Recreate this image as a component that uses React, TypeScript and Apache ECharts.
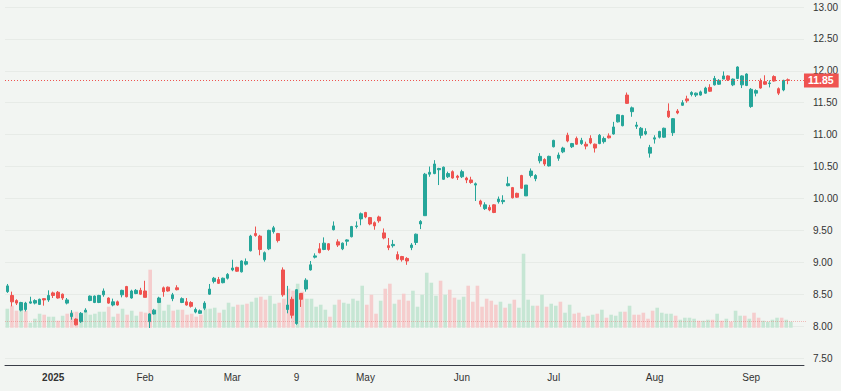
import React, { useEffect, useRef } from "react";
import * as echarts from "echarts";

// Daily OHLC (index 0 = mid-December 2024 ... last = mid-September 2025)
const opens = [
  8.54, 8.48, 8.4, 8.25, 8.26, 8.36, 8.36, 8.34, 8.43, 8.41, 8.52, 8.53, 8.5, 8.36, 8.15, 8.11, 8.07, 8.22, 8.4, 8.37,
  8.37, 8.49, 8.44, 8.33, 8.38, 8.49, 8.62, 8.44, 8.51, 8.56, 8.55, 8.07, 8.19, 8.37, 8.6, 8.61, 8.43, 8.6, 8.37, 8.38,
  8.37, 8.22, 8.2, 8.28, 8.5, 8.7, 8.73, 8.68, 8.75, 8.88, 8.92, 8.85, 8.97, 9.18, 9.45, 9.41, 9.04, 9.21, 9.48, 9.45,
  8.88, 8.26, 8.42, 8.04, 8.51, 8.58, 8.88, 9.08, 9.21, 9.2, 9.29, 9.51, 9.32, 9.21, 9.33, 9.4, 9.56, 9.68, 9.78, 9.7,
  9.62, 9.71, 9.46, 9.26, 9.26, 9.12, 9.09, 9.06, 9.23, 9.31, 9.6, 9.73, 10.38, 10.39, 10.45, 10.3, 10.34, 10.42, 10.35, 10.34,
  10.32, 10.29, 10.21, 9.96, 9.84, 9.86, 9.9, 9.95, 9.95, 10.2, 10.17, 10.08, 10.36, 10.04, 10.36, 10.31, 10.59, 10.61, 10.51, 10.81,
  10.63, 10.73, 10.99, 10.81, 10.94, 10.86, 10.85, 10.94, 10.85, 10.86, 10.89, 10.98, 11.01, 11.2, 11.14, 11.62, 11.36, 11.13, 10.99, 11.01,
  10.71, 10.93, 10.96, 10.96, 11.37, 11.03, 11.37, 11.46, 11.56, 11.63, 11.62, 11.62, 11.65, 11.74, 11.78, 11.79, 11.87, 11.92, 11.78, 11.88,
  11.78, 11.77, 11.44, 11.65, 11.84, 11.83, 11.8, 11.91, 11.72, 11.7, 11.86,
];
const closes = [
  8.63, 8.38, 8.36, 8.37, 8.36, 8.38, 8.4, 8.42, 8.41, 8.48, 8.48, 8.44, 8.44, 8.41, 8.2, 8.02, 8.2, 8.25, 8.47, 8.47,
  8.48, 8.55, 8.36, 8.38, 8.33, 8.56, 8.46, 8.55, 8.56, 8.5, 8.45, 8.19, 8.25, 8.44, 8.54, 8.55, 8.49, 8.57, 8.43, 8.33,
  8.31, 8.26, 8.24, 8.36, 8.58, 8.75, 8.67, 8.75, 8.81, 8.91, 8.86, 9.02, 9.01, 9.41, 9.42, 9.2, 9.15, 9.5, 9.54, 9.34,
  8.49, 8.33, 8.17, 8.57, 8.42, 8.72, 8.96, 9.1, 9.15, 9.3, 9.2, 9.57, 9.27, 9.3, 9.35, 9.56, 9.57, 9.76, 9.71, 9.6,
  9.57, 9.65, 9.38, 9.23, 9.28, 9.05, 9.04, 9.02, 9.27, 9.44, 9.64, 10.38, 10.41, 10.54, 10.47, 10.49, 10.39, 10.32, 10.33, 10.42,
  10.29, 10.25, 10.23, 9.91, 9.9, 9.82, 9.78, 9.99, 9.97, 10.23, 10.01, 10.02, 10.16, 10.21, 10.43, 10.36, 10.66, 10.54, 10.66, 10.91,
  10.68, 10.79, 10.9, 10.86, 10.85, 10.91, 10.82, 10.87, 10.79, 10.99, 10.94, 10.95, 11.12, 11.31, 11.3, 11.49, 11.42, 11.15, 11.1, 11.05,
  10.8, 10.95, 11.05, 11.1, 11.28, 11.25, 11.34, 11.5, 11.53, 11.66, 11.65, 11.67, 11.73, 11.68, 11.88, 11.85, 11.92, 11.86, 11.87, 12.06,
  11.92, 11.95, 11.71, 11.69, 11.73, 11.79, 11.81, 11.84, 11.65, 11.85, 11.85,
];
const lows = [
  8.52, 8.31, 8.33, 8.23, 8.23, 8.35, 8.34, 8.33, 8.32, 8.38, 8.44, 8.43, 8.41, 8.34, 8.1, 8.01, 8.05, 8.22, 8.39, 8.36,
  8.36, 8.46, 8.35, 8.31, 8.32, 8.45, 8.45, 8.43, 8.5, 8.49, 8.45, 7.97, 8.18, 8.36, 8.46, 8.54, 8.39, 8.56, 8.36, 8.32,
  8.29, 8.2, 8.19, 8.25, 8.49, 8.67, 8.66, 8.67, 8.73, 8.86, 8.85, 8.84, 8.95, 9.17, 9.4, 9.11, 9.01, 9.19, 9.45, 9.31,
  8.46, 8.2, 8.12, 8.02, 8.3, 8.54, 8.87, 9.06, 9.14, 9.19, 9.18, 9.5, 9.24, 9.19, 9.26, 9.39, 9.53, 9.58, 9.69, 9.58,
  9.51, 9.62, 9.36, 9.19, 9.23, 9.03, 9.01, 8.96, 9.19, 9.27, 9.52, 9.73, 10.34, 10.38, 10.21, 10.29, 10.32, 10.31, 10.29, 10.32,
  10.24, 10.23, 9.96, 9.87, 9.82, 9.8, 9.77, 9.92, 9.91, 10.19, 10.0, 10.01, 10.15, 10.04, 10.33, 10.27, 10.55, 10.51, 10.5, 10.8,
  10.59, 10.71, 10.88, 10.79, 10.84, 10.84, 10.77, 10.85, 10.72, 10.85, 10.86, 10.94, 11.0, 11.19, 11.13, 11.48, 11.28, 11.09, 10.94, 10.99,
  10.64, 10.86, 10.94, 10.95, 11.26, 10.98, 11.32, 11.45, 11.5, 11.6, 11.59, 11.61, 11.64, 11.67, 11.77, 11.78, 11.87, 11.84, 11.76, 11.87,
  11.73, 11.76, 11.42, 11.6, 11.72, 11.78, 11.74, 11.83, 11.62, 11.68, 11.79,
];
const highs = [
  8.66, 8.54, 8.42, 8.38, 8.38, 8.46, 8.42, 8.43, 8.44, 8.56, 8.54, 8.55, 8.51, 8.44, 8.25, 8.12, 8.22, 8.28, 8.48, 8.48,
  8.49, 8.59, 8.45, 8.43, 8.4, 8.57, 8.63, 8.57, 8.58, 8.6, 8.71, 8.2, 8.27, 8.46, 8.62, 8.62, 8.52, 8.64, 8.45, 8.44,
  8.39, 8.29, 8.26, 8.39, 8.66, 8.77, 8.77, 8.76, 8.83, 9.04, 8.93, 9.03, 9.06, 9.43, 9.56, 9.43, 9.17, 9.51, 9.57, 9.46,
  8.92, 8.63, 8.46, 8.58, 8.52, 8.75, 9.02, 9.14, 9.3, 9.39, 9.3, 9.64, 9.36, 9.31, 9.36, 9.57, 9.64, 9.78, 9.79, 9.71,
  9.64, 9.73, 9.53, 9.38, 9.35, 9.17, 9.1, 9.08, 9.3, 9.45, 9.66, 10.4, 10.5, 10.6, 10.48, 10.5, 10.42, 10.44, 10.37, 10.45,
  10.34, 10.34, 10.25, 9.98, 9.94, 9.9, 9.91, 10.03, 10.05, 10.34, 10.18, 10.09, 10.37, 10.21, 10.47, 10.38, 10.71, 10.63, 10.67, 10.92,
  10.72, 10.81, 11.03, 10.87, 10.97, 10.95, 10.89, 10.99, 10.86, 11.01, 10.97, 11.02, 11.2, 11.32, 11.31, 11.66, 11.44, 11.2, 11.12, 11.1,
  10.84, 10.99, 11.06, 11.11, 11.49, 11.26, 11.4, 11.54, 11.61, 11.68, 11.66, 11.69, 11.75, 11.79, 11.92, 11.87, 11.99, 11.93, 11.88, 12.07,
  11.93, 11.96, 11.73, 11.71, 11.88, 11.93, 11.85, 11.93, 11.74, 11.86, 11.88,
];
// Volume, millions of shares
const volumes = [
  1.9, 2.2, 1.7, 1.7, 1.7, 0.5, 0.9, 1.4, 1.3, 1.1, 1.1, 0.7, 1.2, 1.4, 1.6, 1.6, 1.4, 1.6, 1.3, 1.4,
  1.6, 1.6, 2.1, 1.1, 1.4, 1.9, 1.3, 1.7, 1.2, 1.6, 1.5, 5.8, 1.8, 2.7, 1.7, 2.3, 1.7, 1.8, 1.8, 1.3,
  1.4, 1.1, 1.3, 1.9, 1.9, 2.0, 1.5, 1.8, 2.5, 2.1, 2.3, 2.3, 2.4, 2.6, 3.0, 3.1, 2.8, 3.2, 2.4, 2.5,
  2.9, 3.9, 3.7, 4.4, 3.6, 2.9, 2.9, 2.1, 2.3, 1.8, 1.1, 2.3, 2.8, 2.5, 2.4, 2.9, 2.7, 4.2, 2.3, 3.3,
  1.4, 2.7, 3.9, 4.4, 2.4, 2.8, 3.4, 2.7, 3.7, 2.1, 3.3, 5.5, 4.5, 3.2, 4.7, 3.3, 3.8, 3.0, 2.8, 3.1,
  4.2, 2.6, 4.2, 2.1, 2.9, 2.7, 2.3, 2.6, 2.0, 2.4, 2.8, 2.0, 7.4, 2.8, 2.2, 2.2, 3.3, 2.1, 2.4, 2.2,
  2.6, 1.5, 2.3, 1.4, 1.5, 1.1, 1.2, 1.3, 1.4, 1.8, 1.0, 1.3, 1.2, 1.6, 1.6, 2.2, 1.3, 1.3, 1.5, 0.9,
  1.7, 2.0, 1.5, 1.4, 1.4, 1.2, 0.8, 1.0, 1.0, 0.9, 0.7, 0.7, 0.8, 0.8, 1.4, 0.7, 0.9, 0.6, 1.7, 1.2,
  1.2, 0.9, 1.5, 1.0, 0.7, 0.6, 0.8, 1.0, 1.0, 0.8, 0.6,
];
// Time-axis labels: [candle index, text]
const tickLabels: [number, string][] = [
  [10, "2025"], [30, "Feb"], [49, "Mar"], [63, "9"], [78, "May"],
  [99, "Jun"], [119, "Jul"], [141, "Aug"], [162, "Sep"],
];
const lastPrice = 11.85;
const emptyBarsRight = 3;

const UP = "#26a69a";
const DOWN = "#ef5350";
const VOL_UP = "#c6e6d4";
const VOL_DOWN = "#f5cdcd";
const BG = "#f2f5f2";
const FONT = "Liberation Sans, Arial, sans-serif";

export default function App() {
  const ref = useRef<HTMLDivElement>(null);
  useEffect(() => {
    if (!ref.current) return;
    const chart = echarts.init(ref.current, null, { renderer: "svg" });
    const n = closes.length;
    const categories = Array.from({ length: n + emptyBarsRight }, (_, i) => String(i));
    const labelMap = new Map<number, string>(tickLabels);
    const candles = closes.map((c, i) => [opens[i], c, lows[i], highs[i]]);
    const vols = volumes.map((v, i) => ({
      value: v,
      itemStyle: { color: i === 0 || closes[i] >= closes[i - 1] ? VOL_UP : VOL_DOWN },
    }));
    chart.setOption({
      animation: false,
      backgroundColor: BG,
      textStyle: { fontFamily: FONT },
      grid: [
        { left: 5, right: 34, top: 7, bottom: 33 },
        { left: 5, right: 34, top: 227.7, bottom: 63.3 },
      ],
      xAxis: [
        {
          type: "category",
          gridIndex: 0,
          data: categories,
          boundaryGap: true,
          offset: 7,
          axisLine: { lineStyle: { color: "#3a3e48", width: 1 } },
          axisTick: { show: false },
          splitLine: { show: false },
          axisLabel: {
            interval: (idx: number) => labelMap.has(idx),
            formatter: (_v: string, idx: number) => {
              const t = labelMap.get(idx) ?? "";
              return /^\d{4}$/.test(t) ? `{b|${t}}` : t;
            },
            color: "#333",
            fontSize: 10,
            fontFamily: FONT,
            margin: 7,
            rich: { b: { fontWeight: "bold", fontSize: 10, color: "#333", fontFamily: FONT } },
          },
        },
        { type: "category", gridIndex: 1, data: categories, boundaryGap: true, show: false },
      ],
      yAxis: [
        {
          type: "value",
          gridIndex: 0,
          position: "right",
          min: 7.5,
          max: 13,
          interval: 0.5,
          axisLine: { show: false },
          axisTick: { show: false },
          axisLabel: {
            formatter: (v: number) => v.toFixed(2),
            color: "#333",
            fontSize: 10,
            fontFamily: FONT,
            margin: 9,
          },
          splitLine: { lineStyle: { color: "#e7ebe7", width: 1 } },
        },
        { type: "value", gridIndex: 1, min: 0, max: 10, show: false, splitLine: { show: false } },
      ],
      series: [
        {
          type: "bar",
          xAxisIndex: 1,
          yAxisIndex: 1,
          data: vols,
          barWidth: 3.6,
          z: 1,
          markLine: {
            silent: true,
            symbol: "none",
            label: { show: false },
            lineStyle: { type: "dotted", color: "rgba(239,83,80,0.35)", width: 1 },
            data: [{ yAxis: volumes[volumes.length - 1] }],
          },
        },
        {
          type: "candlestick",
          xAxisIndex: 0,
          yAxisIndex: 0,
          data: candles,
          barWidth: 3,
          z: 3,
          itemStyle: {
            color: UP,
            color0: DOWN,
            borderColor: UP,
            borderColor0: DOWN,
            borderWidth: 1,
          },
          markLine: {
            silent: true,
            symbol: "none",
            lineStyle: { type: [1, 2], color: DOWN, width: 1 },
            label: {
              show: true,
              position: "end",
              distance: 0,
              formatter: lastPrice.toFixed(2),
              backgroundColor: DOWN,
              color: "#fff",
              fontSize: 10.5,
              fontWeight: "bold",
              fontFamily: FONT,
              lineHeight: 12,
              padding: [1, 5, 1, 4],
            },
            data: [{ yAxis: lastPrice }],
          },
        },
      ],
    });
    return () => chart.dispose();
  }, []);
  return (
    <div
      ref={ref}
      style={{ position: "fixed", left: 0, top: 0, width: 841, height: 391, background: BG }}
    />
  );
}
